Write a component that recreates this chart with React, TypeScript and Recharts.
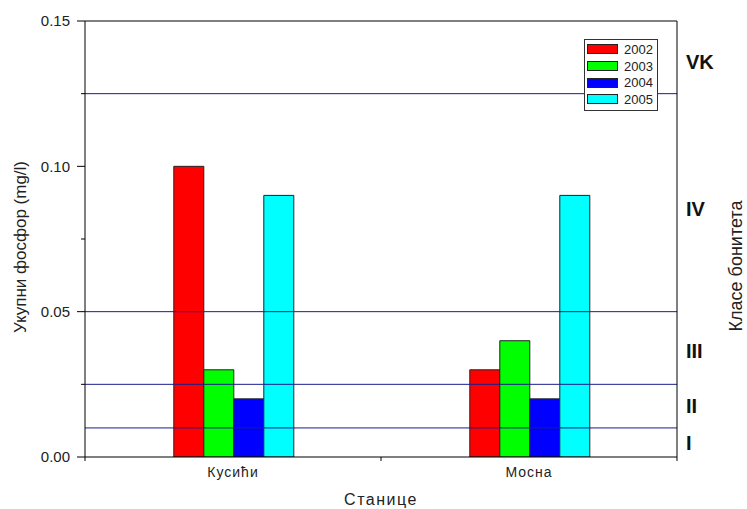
import React from 'react';
import {
  BarChart,
  Bar,
  XAxis,
  YAxis,
  Legend,
  ReferenceLine,
  Label,
} from 'recharts';

const FONT = 'Arial, "Liberation Sans", sans-serif';

const STATIONS = ['Кусићи', 'Мосна'];
const YEARS = ['2002', '2003', '2004', '2005'];
const V2002 = [0.1, 0.03];
const V2003 = [0.03, 0.04];
const V2004 = [0.02, 0.02];
const V2005 = [0.09, 0.09];
const COLORS = ['#ff0000', '#00ff00', '#0000ff', '#00ffff'];

const Y_MAJOR = [0, 0.05, 0.1, 0.15];
const Y_TICKS = [0, 0.025, 0.05, 0.075, 0.1, 0.125, 0.15];
const CLASS_LIMITS = [0.01, 0.025, 0.05, 0.125];
const CLASS_LABELS = ['I', 'II', 'III', 'IV', 'VK'];
const CLASS_POS = [0.005, 0.0175, 0.0365, 0.0855, 0.136];

const SERIES = [V2002, V2003, V2004, V2005];
const data = STATIONS.map((name, i) => {
  const row: Record<string, any> = { name };
  YEARS.forEach((y, k) => {
    row[y] = SERIES[k][i];
  });
  return row;
});

const YTick = (props: any) => {
  const { x, y, payload } = props;
  const axisX = x + 15;
  const major = Y_MAJOR.includes(payload.value);
  return (
    <g>
      <line x1={axisX - (major ? 8 : 4)} x2={axisX} y1={y} y2={y} stroke="#000" />
      {major && (
        <text x={x} y={y} dy="0.36em" textAnchor="end" fontSize={15} fill="#222" fontFamily={FONT}>
          {payload.value.toFixed(2)}
        </text>
      )}
    </g>
  );
};

const XTick = (props: any) => {
  const { x, y, payload, index } = props;
  const axisY = y - 10;
  const half = payload.offset ?? 0;
  return (
    <g>
      {index === 0 && <line x1={x - half} x2={x - half} y1={axisY} y2={axisY + 4} stroke="#000" />}
      <line x1={x + half} x2={x + half} y1={axisY} y2={axisY + 4} stroke="#000" />
      <text
        x={x}
        y={y}
        dy="0.71em"
        textAnchor="middle"
        fontSize={14}
        letterSpacing={1}
        fill="#222"
        fontFamily={FONT}
      >
        {payload.value}
      </text>
    </g>
  );
};

const ClassTick = (props: any) => {
  const { x, y, payload } = props;
  const idx = CLASS_POS.indexOf(payload.value);
  return (
    <text x={x} y={y} dy="0.36em" textAnchor="start" fontSize={20} fontWeight="bold" fill="#111" fontFamily={FONT}>
      {CLASS_LABELS[idx]}
    </text>
  );
};

const LegendBox = ({ payload }: any) => (
  <div
    style={{
      border: '1px solid #333',
      background: '#fff',
      padding: '1px 0 0 2px',
      width: 74,
      height: 72,
      boxSizing: 'border-box',
      fontFamily: FONT,
      fontSize: 13,
      color: '#222',
    }}
  >
    {(payload || []).map((p: any) => (
      <div key={p.value} style={{ display: 'flex', alignItems: 'center', height: 16.7 }}>
        <span
          style={{
            display: 'inline-block',
            width: 31,
            height: 10,
            boxSizing: 'border-box',
            border: '1px solid #222',
            background: p.color,
            marginRight: 6,
          }}
        />
        <span>{p.value}</span>
      </div>
    ))}
  </div>
);

export default function App() {
  return (
    <div style={{ position: 'absolute', left: 0, top: 0, background: '#fff' }}>
      <BarChart
        width={747}
        height={509}
        data={data}
        margin={{ top: 21, right: 30, bottom: 22, left: 25 }}
        barCategoryGap="30%"
        barGap={0}
      >
        <XAxis
          dataKey="name"
          height={30}
          axisLine={{ stroke: '#000' }}
          tickLine={false}
          tickSize={5}
          tickMargin={5}
          tick={<XTick />}
          interval={0}
        >
          <Label
            value="Станице"
            position="center"
            dy={27}
            fontSize={16}
            letterSpacing={1.5}
            fill="#222"
            fontFamily={FONT}
          />
        </XAxis>
        <YAxis
          yAxisId="l"
          width={60}
          domain={[0, 0.15]}
          ticks={Y_TICKS}
          interval={0}
          allowDataOverflow
          axisLine={{ stroke: '#000' }}
          tickLine={false}
          tickSize={8}
          tickMargin={7}
          tick={<YTick />}
        >
          <Label
            value="Укупни фосфор (mg/l)"
            angle={-90}
            position="center"
            dx={-35}
            dy={8}
            fontSize={17}
            fill="#222"
            fontFamily={FONT}
          />
        </YAxis>
        <YAxis
          yAxisId="r"
          orientation="right"
          width={40}
          domain={[0, 0.15]}
          ticks={CLASS_POS}
          interval={0}
          allowDataOverflow
          axisLine={{ stroke: '#000' }}
          tickLine={false}
          tickSize={6}
          tickMargin={3}
          tick={<ClassTick />}
        >
          <Label
            value="Класе бонитета"
            angle={-90}
            position="center"
            dx={39}
            dy={27}
            fontSize={18}
            fill="#222"
            fontFamily={FONT}
          />
        </YAxis>
        {YEARS.map((y, k) => (
          <Bar
            key={y}
            yAxisId="l"
            dataKey={y}
            fill={COLORS[k]}
            stroke="#222"
            strokeWidth={1}
            isAnimationActive={false}
          />
        ))}
        {CLASS_LIMITS.map((v) => (
          <ReferenceLine key={v} yAxisId="l" y={v} stroke="#1c1c8c" strokeWidth={1} />
        ))}
        <ReferenceLine yAxisId="l" y={0.15} stroke="#000" strokeWidth={1} />
        <Legend
          layout="vertical"
          align="center"
          verticalAlign="middle"
          wrapperStyle={{ left: 584, top: 39, width: 74, height: 72 }}
          content={<LegendBox />}
        />
      </BarChart>
    </div>
  );
}
